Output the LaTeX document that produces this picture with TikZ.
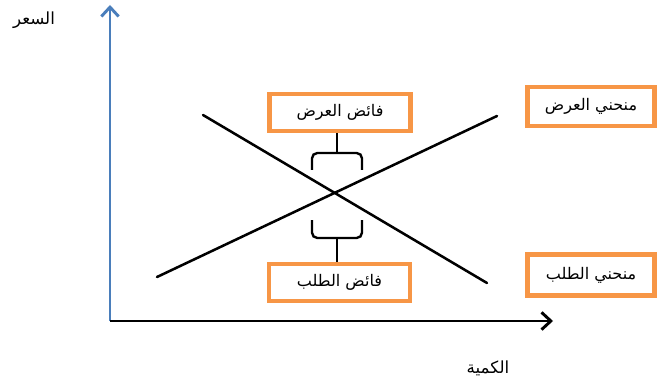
\documentclass[tikz,border=0pt]{standalone}
\usepackage{fontspec}
\usetikzlibrary{arrows.meta}
\TeXXeTstate=1
\newfontfamily\arabicfont[Script=Arabic]{DejaVu Sans}
\definecolor{axisblue}{HTML}{4A7EBB}
\definecolor{boxorange}{HTML}{F79646}
\tikzset{
  lbl/.style={draw=boxorange, line width=3.4pt, fill=white, inner sep=0pt,
    font=\arabicfont\fontsize{12}{14}\selectfont},
  axisline/.style={line width=2.2pt, -{Straight Barb[length=7pt,width=13pt]}},
  curve/.style={line width=1.9pt, line cap=round},
  bracket/.style={line width=1.8pt, rounded corners=4pt},
  axlabel/.style={font=\arabicfont\fontsize{12.5}{14}\selectfont, inner sep=0pt}
}
\begin{document}
\begin{tikzpicture}[x=0.75pt,y=-0.75pt]
\useasboundingbox (0,0) rectangle (665,385);
% axes
\coordinate (O) at (110,321);
\coordinate (ytop) at (110,5);
\coordinate (xend) at (553,321);
\draw[axisline, axisblue] (O) -- (ytop);
\draw[axisline, black] (O) -- (xend);
% curves
\coordinate (d1) at (203,115);
\coordinate (d2) at (487,283);
\coordinate (s1) at (157,277);
\coordinate (s2) at (497,116);
\draw[curve] (d1) -- (d2);
\draw[curve] (s1) -- (s2);
% boxes
\node[lbl, minimum width=106pt, minimum height=27.5pt] (A) at (340,112.5) {\beginR فائض العرض\endR};
\node[lbl, minimum width=106pt, minimum height=27.5pt] (B) at (339.5,282.5) {\beginR فائض الطلب\endR};
\node[lbl, minimum width=95.5pt, minimum height=29pt] (C) at (591,106.5) {\beginR منحني العرض\endR};
\node[lbl, minimum width=95.5pt, minimum height=31pt] (D) at (591,275) {\beginR منحني الطلب\endR};
% brackets
\coordinate (ub) at (337,153);
\draw[bracket] (312,170) -- (312,153) -- (362,153) -- (362,170);
\draw[line width=1.8pt] (ub) -- (ub |- A.south);
\coordinate (lb) at (337,238);
\draw[bracket] (312,220) -- (312,238) -- (362,238) -- (362,220);
\draw[line width=1.8pt] (lb) -- (lb |- B.north);
% axis labels
\node[axlabel] (py) at (34,20) {\beginR السعر\endR};
\node[axlabel] (qx) at (488,368) {\beginR الكمية\endR};
\end{tikzpicture}
\end{document}
